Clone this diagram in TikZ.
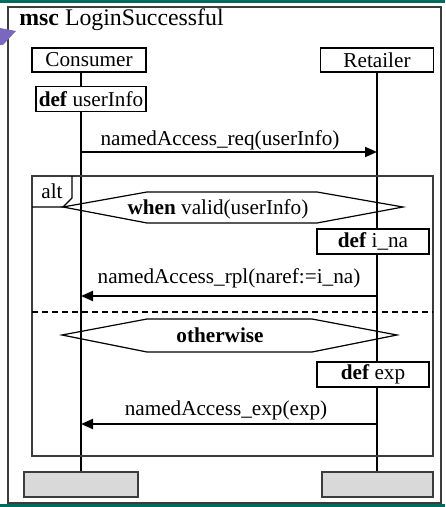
\documentclass[tikz,border=0pt]{standalone}
\usepackage{fontspec}
\setmainfont{Liberation Serif}
\usetikzlibrary{arrows.meta}

\definecolor{bandteal}{RGB}{0,108,94}
\definecolor{framegray}{RGB}{60,60,60}
\definecolor{tippurple}{RGB}{122,104,190}
\definecolor{endgray}{RGB}{217,217,217}

\begin{document}
\begin{tikzpicture}[x=0.5pt, y=-0.5pt, >={Triangle[length=6pt,width=5pt]},
    font=\fontsize{10.6}{12}\selectfont,
    inst/.style={draw, line width=0.6pt, inner sep=0pt, minimum height=12pt},
    defbox/.style={draw, line width=0.6pt, inner sep=0pt, minimum width=56pt, minimum height=12.5pt},
    endbox/.style={draw=framegray, fill=endgray, line width=0.7pt, inner sep=0pt, minimum height=12.5pt},
    life/.style={line width=1pt},
    msg/.style={line width=1pt, ->},
    guard/.style={line width=0.6pt}]
    \useasboundingbox (0,0) rectangle (445,507);
    % page bands and outer frame
    \draw[bandteal, line width=1.5pt] (0,1.5) -- (445,1.5);
    \draw[framegray, line width=0.75pt] (8,7) rectangle (441,503);
    \draw[bandteal, line width=1.5pt] (0,505) -- (445,505);
    \fill[tippurple] (0,28) -- (16,31) -- (3,45) -- (0,45) -- cycle;
    \node[anchor=base west, inner sep=0pt, font=\fontsize{11.9}{13}\selectfont] (title) at (19,26) {\textbf{msc} LoginSuccessful};
    % instances
    \node[inst, minimum width=57pt] (cons) at (89,60) {Consumer};
    \node[inst, minimum width=56.5pt] (ret) at (377,60) {Retailer};
    \node[defbox, minimum width=55pt] (defu) at (91,99) {\textbf{def} userInfo};
    \node[defbox] (defi) at (373,241.5) {\textbf{def} i\_na};
    \node[defbox] (defe) at (373,374.5) {\textbf{def} exp};
    \node[endbox, minimum width=57pt] (cend) at (81,484.5) {};
    \node[endbox, minimum width=55.5pt] (rend) at (377.5,484.5) {};
    % lifelines
    \coordinate (cx) at (81,0);
    \coordinate (rx) at (377,0);
    \draw[life] (cx |- cons.south) -- (cx |- defu.north);
    \draw[life] (cx |- defu.south) -- (cx |- cend.north);
    \draw[life] (ret.south) -- (rx |- defi.north);
    \draw[life] (rx |- defi.south) -- (rx |- defe.north);
    \draw[life] (rx |- defe.south) -- (rx |- rend.north);
    % alt frame
    \draw[framegray, line width=0.6pt] (32,176) rectangle (433,456);
    \draw[line width=0.6pt] (32,207) -- (63,207) -- (72,198) -- (72,176);
    \node (alt) at (52,191) {alt};
    \draw[line width=0.6pt, dash pattern=on 3pt off 2pt] (32,312) -- (433,312);
    % guards
    \draw[guard] (63,207) -- (147,192) -- (317,192) -- (403,207) -- (317,223) -- (147,223) -- cycle;
    \node[anchor=base] (when) at (218,215) {\textbf{when} valid(userInfo)};
    \draw[guard] (62,335) -- (147,319) -- (312,319) -- (397,335) -- (312,352) -- (147,352) -- cycle;
    \node[anchor=base] (other) at (220,342) {\textbf{otherwise}};
    % messages
    \coordinate (m1) at (0,152);
    \coordinate (m2) at (0,296);
    \coordinate (m3) at (0,424);
    \draw[msg] (cx |- m1) -- (rx |- m1);
    \node[anchor=base] (req) at (220,146) {namedAccess\_req(userInfo)};
    \draw[msg] (rx |- m2) -- (cx |- m2);
    \node[anchor=base] (rpl) at (229,283) {namedAccess\_rpl(naref:=i\_na)};
    \draw[msg] (rx |- m3) -- (cx |- m3);
    \node[anchor=base] (exc) at (226,415) {namedAccess\_exp(exp)};
\end{tikzpicture}
\end{document}
